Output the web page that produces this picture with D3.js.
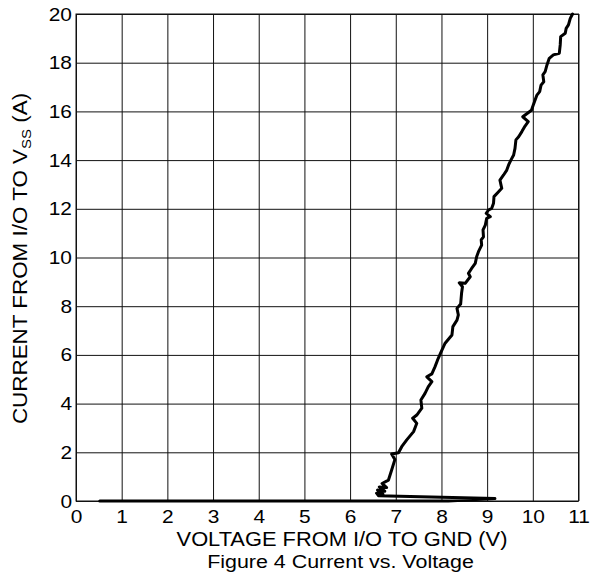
<!DOCTYPE html>
<html>
<head>
<meta charset="utf-8">
<script src="https://cdn.jsdelivr.net/npm/d3@7"></script>
<style>
  body { margin: 0; background: #fff; }
  svg { display: block; font-family: "Liberation Sans", Arial, sans-serif; }
</style>
</head>
<body>
<div id="chart"></div>
<script>
const WIDTH = 598;
const HEIGHT = 581;
const LEFT = 76;
const RIGHT = 578.5;
const TOP = 14;
const BOTTOM = 501;
const STRETCH = 1.12; // the original font is a bit wider than Liberation Sans

// data
const xTicks = [0, 1, 2, 3, 4, 5, 6, 7, 8, 9, 10, 11];
const yTicks = [0, 2, 4, 6, 8, 10, 12, 14, 16, 18, 20];
const voltage = [0.52, 8.15, 9.17, 6.62, 6.58, 6.72, 6.6, 6.76, 6.64, 6.8, 6.7, 6.84, 6.91, 6.98, 6.91, 7.06, 7.13, 7.24, 7.39, 7.46, 7.37, 7.46, 7.57, 7.55, 7.64, 7.71, 7.79, 7.68, 7.79, 7.86, 7.93, 8.01, 8.08, 8.23, 8.25, 8.34, 8.37, 8.34, 8.42, 8.44, 8.46, 8.39, 8.52, 8.63, 8.59, 8.66, 8.74, 8.77, 8.81, 8.88, 8.87, 8.92, 8.91, 8.96, 8.99, 9.07, 8.98, 9.03, 9.1, 9.14, 9.15, 9.25, 9.32, 9.28, 9.36, 9.43, 9.47, 9.52, 9.58, 9.61, 9.63, 9.69, 9.76, 9.83, 9.9, 9.78, 9.97, 10.01, 10.05, 10.09, 10.15, 10.18, 10.24, 10.22, 10.27, 10.31, 10.36, 10.45, 10.58, 10.6, 10.61, 10.71, 10.73, 10.78, 10.82, 10.87];
const current = [0, 0, 0.1, 0.22, 0.32, 0.28, 0.45, 0.4, 0.58, 0.55, 0.72, 0.86, 1.27, 1.7, 1.93, 1.98, 2.23, 2.51, 2.85, 3.19, 3.4, 3.53, 3.81, 4.15, 4.42, 4.69, 4.9, 5.1, 5.22, 5.52, 5.86, 6.2, 6.48, 6.82, 7.16, 7.43, 7.64, 7.91, 8.09, 8.53, 8.8, 8.96, 8.94, 9.21, 9.35, 9.55, 9.76, 10.03, 10.24, 10.51, 10.72, 10.85, 11.13, 11.33, 11.61, 11.68, 11.81, 11.95, 12.02, 12.23, 12.5, 12.7, 12.84, 13.18, 13.39, 13.59, 13.8, 14.0, 14.21, 14.48, 14.83, 14.96, 15.17, 15.4, 15.58, 15.78, 16.05, 16.26, 16.47, 16.67, 16.81, 17.08, 17.22, 17.5, 17.63, 17.91, 18.18, 18.32, 18.39, 18.73, 19.07, 19.21, 19.41, 19.55, 19.82, 20.0];

const points = voltage.map((v, i) => [v, current[i]]);

const x = d3.scaleLinear().domain([0, 11]).range([LEFT, RIGHT]);
const y = d3.scaleLinear().domain([0, 20]).range([BOTTOM, TOP]);

const svg = d3.select("#chart").append("svg")
  .attr("width", WIDTH)
  .attr("height", HEIGHT);

// widen a text element to mimic the original's wider glyphs
const widen = (sel, k) => sel.each(function () {
  const w = this.getComputedTextLength();
  d3.select(this).attr("textLength", w * k).attr("lengthAdjust", "spacingAndGlyphs");
});

// grid + ticks
const xAxis = svg.append("g")
  .attr("transform", `translate(0,${BOTTOM})`)
  .call(d3.axisBottom(x).tickValues(xTicks).tickSize(-(BOTTOM - TOP)).tickPadding(9).tickSizeOuter(0));

const yAxis = svg.append("g")
  .attr("transform", `translate(${LEFT},0)`)
  .call(d3.axisLeft(y).tickValues(yTicks).tickSize(-(RIGHT - LEFT)).tickPadding(4).tickSizeOuter(0));

[xAxis, yAxis].forEach(g => {
  g.select(".domain").remove();
  g.selectAll(".tick line").attr("stroke", "#111").attr("stroke-width", 1);
  g.selectAll(".tick text")
    .attr("fill", "#000")
    .style("font-size", "19px")
    .style("font-family", "'Liberation Sans', Arial, sans-serif")
    .call(widen, 1.1);
});

// frame
svg.append("rect")
  .attr("x", x(0)).attr("y", y(20))
  .attr("width", x(11) - x(0)).attr("height", y(0) - y(20))
  .attr("fill", "none").attr("stroke", "#111").attr("stroke-width", 1);

// curve
svg.append("path")
  .datum(points)
  .attr("fill", "none")
  .attr("stroke", "#000")
  .attr("stroke-width", 3)
  .attr("stroke-linejoin", "round")
  .attr("stroke-linecap", "round")
  .attr("d", d3.line().x(d => x(d[0])).y(d => y(d[1])));

// axis titles
svg.append("text")
  .attr("x", 342).attr("y", 546)
  .attr("text-anchor", "middle")
  .style("font-size", "19.5px")
  .text("VOLTAGE FROM I/O TO GND (V)")
  .call(widen, STRETCH);

svg.append("text")
  .attr("x", 340.5).attr("y", 568)
  .attr("text-anchor", "middle")
  .style("font-size", "18px")
  .text("Figure 4 Current vs. Voltage")
  .call(widen, 1.19);

const yt = svg.append("text")
  .attr("transform", `translate(27,${(TOP + BOTTOM) / 2 + 1}) rotate(-90) scale(1.15,1)`)
  .attr("text-anchor", "middle")
  .style("font-size", "19.5px");
yt.append("tspan").text("CURRENT FROM I/O TO V");
yt.append("tspan").attr("dy", 4).style("font-size", "13px").text("SS");
yt.append("tspan").attr("dy", -4).text(" (A)");
</script>
</body>
</html>
